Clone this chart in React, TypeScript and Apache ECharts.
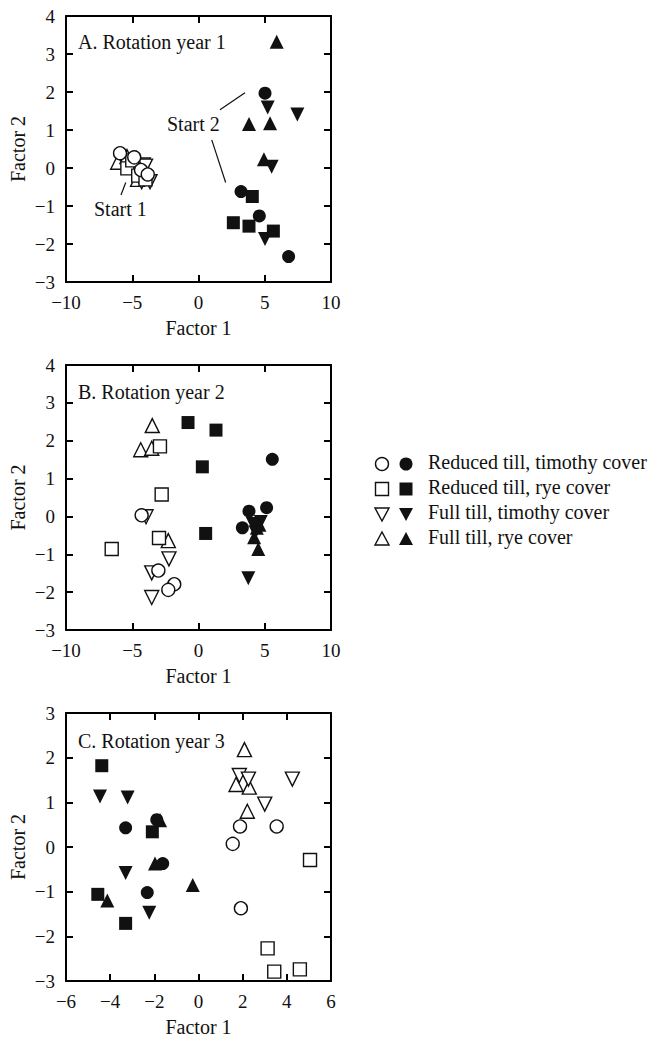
import React, { useEffect, useRef } from "react";
import * as echarts from "echarts";

const FONT = '"Liberation Serif", "Times New Roman", serif';

const treatments = [
  "Reduced till, timothy cover",
  "Reduced till, rye cover",
  "Full till, timothy cover",
  "Full till, rye cover",
];
const panelTitles = ["A. Rotation year 1", "B. Rotation year 2", "C. Rotation year 3"];

// Panel A
const aCircleOpen = [[-5.92, 0.39], [-4.85, 0.28], [-4.34, -0.05], [-3.83, -0.17]];
const aSquareOpen = [[-5.37, -0.01], [-5.0, 0.2], [-4.55, -0.2], [-4.0, -0.3]];
const aDownOpen = [[-4.17, 0.08], [-4.0, 0.05], [-3.66, -0.36], [-4.29, -0.36]];
const aUpOpen = [[-6.1, 0.15], [-5.4, 0.3], [-4.7, 0.25], [-4.6, -0.3]];
const aCircleFill = [[5.02, 1.97], [3.21, -0.62], [4.59, -1.26], [6.8, -2.33]];
const aSquareFill = [[4.06, -0.75], [2.63, -1.44], [3.81, -1.53], [5.65, -1.66]];
const aDownFill = [[5.22, 1.59], [7.46, 1.41], [5.52, 0.03], [5.02, -1.87]];
const aUpFill = [[5.9, 3.32], [3.81, 1.16], [5.4, 1.18], [4.94, 0.23]];

// Panel B
const bCircleOpen = [[-4.29, 0.03], [-3.03, -1.43], [-1.83, -1.79], [-2.28, -1.94]];
const bSquareOpen = [[-2.91, 1.85], [-2.78, 0.58], [-2.98, -0.57], [-6.55, -0.86]];
const bDownOpen = [[-3.96, -0.01], [-2.23, -1.12], [-3.53, -1.49], [-3.53, -2.14]];
const bUpOpen = [[-3.49, 2.4], [-4.36, 1.76], [-3.53, 1.8], [-2.28, -0.64]];
const bCircleFill = [[5.57, 1.51], [3.81, 0.14], [5.14, 0.23], [3.31, -0.3]];
const bSquareFill = [[-0.79, 2.48], [1.32, 2.28], [0.29, 1.31], [0.54, -0.45]];
const bDownFill = [[3.76, -1.63], [4.7, -0.15], [4.3, -0.42], [4.1, -0.2]];
const bUpFill = [[4.51, -0.86], [4.6, -0.22], [4.2, -0.55], [4.4, -0.3]];

// Panel C
const cCircleOpen = [[1.88, 0.46], [3.54, 0.46], [1.55, 0.07], [1.92, -1.37]];
const cSquareOpen = [[5.05, -0.29], [3.13, -2.27], [3.43, -2.79], [4.59, -2.74]];
const cDownOpen = [[1.85, 1.6], [2.26, 1.52], [4.25, 1.52], [3.0, 0.96]];
const cUpOpen = [[2.08, 2.18], [1.7, 1.4], [2.3, 1.34], [2.21, 0.8]];
const cCircleFill = [[-3.3, 0.43], [-1.89, 0.61], [-1.62, -0.37], [-2.32, -1.02]];
const cSquareFill = [[-4.38, 1.82], [-2.09, 0.34], [-4.56, -1.06], [-3.3, -1.71]];
const cDownFill = [[-4.46, 1.13], [-3.21, 1.11], [-3.3, -0.58], [-2.23, -1.47]];
const cUpFill = [[-1.74, 0.6], [-1.97, -0.37], [-0.26, -0.85], [-4.13, -1.2]];

// Annotation leader lines in panel A (data coordinates)
const startLines = [
  [[3.51, 1.98], [1.62, 1.53]],
  [[1.0, 0.74], [2.05, -0.38]],
  [[-5.49, -0.38], [-5.85, -0.71]],
];

const panelData = [
  { up: [aUpOpen, aUpFill], down: [aDownOpen, aDownFill], square: [aSquareOpen, aSquareFill], circle: [aCircleOpen, aCircleFill] },
  { up: [bUpOpen, bUpFill], down: [bDownOpen, bDownFill], square: [bSquareOpen, bSquareFill], circle: [bCircleOpen, bCircleFill] },
  { up: [cUpOpen, cUpFill], down: [cDownOpen, cDownFill], square: [cSquareOpen, cSquareFill], circle: [cCircleOpen, cCircleFill] },
];

const panelRanges = [
  { xMin: -10, xMax: 10, xInt: 5, yMin: -3, yMax: 4 },
  { xMin: -10, xMax: 10, xInt: 5, yMin: -3, yMax: 4 },
  { xMin: -6, xMax: 6, xInt: 2, yMin: -3, yMax: 3 },
];

const grids = [
  { left: 66, top: 16, width: 265, height: 266 },
  { left: 66, top: 365, width: 265, height: 265 },
  { left: 66, top: 713, width: 265, height: 268 },
];

const fmt = (v: number) => String(v).replace("-", "\u2212");

const shapeDefs: Record<string, any> = {
  up: { symbol: "triangle", size: 14, rotate: 0, t: 3 },
  down: { symbol: "triangle", size: 14, rotate: 180, t: 2 },
  square: { symbol: "rect", size: 13, rotate: 0, t: 1 },
  circle: { symbol: "circle", size: 13, rotate: 0, t: 0 },
};

export default function App() {
  const ref = useRef<HTMLDivElement>(null);
  useEffect(() => {
    if (!ref.current) return;
    const chart = echarts.init(ref.current, null, { renderer: "svg" });
    const axisLine = { show: true, onZero: false, lineStyle: { color: "#000", width: 2 } };
    const axisTick = { show: true, inside: true, length: 7, lineStyle: { color: "#000", width: 2 } };
    const xAxis: any[] = [];
    const yAxis: any[] = [];
    const series: any[] = [];
    panelRanges.forEach((r, gi) => {
      xAxis.push({
        type: "value", gridIndex: gi, position: "bottom", min: r.xMin, max: r.xMax, interval: r.xInt,
        axisLine, axisTick, splitLine: { show: false },
        axisLabel: { color: "#111", fontSize: 19, fontFamily: FONT, margin: 11, formatter: fmt },
        name: "Factor 1", nameLocation: "middle", nameGap: 36,
        nameTextStyle: { color: "#111", fontSize: 20, fontFamily: FONT },
      });
      xAxis.push({
        type: "value", gridIndex: gi, position: "top", min: r.xMin, max: r.xMax, interval: r.xInt,
        axisLine, axisTick, splitLine: { show: false }, axisLabel: { show: false },
      });
      yAxis.push({
        type: "value", gridIndex: gi, position: "left", min: r.yMin, max: r.yMax, interval: 1,
        axisLine, axisTick, splitLine: { show: false },
        axisLabel: { color: "#111", fontSize: 19, fontFamily: FONT, margin: 11, formatter: fmt },
        name: "Factor 2", nameLocation: "middle", nameGap: 38, nameRotate: 90,
        nameTextStyle: { color: "#111", fontSize: 20, fontFamily: FONT },
      });
      yAxis.push({
        type: "value", gridIndex: gi, position: "right", min: r.yMin, max: r.yMax, interval: 1,
        axisLine, axisTick, splitLine: { show: false }, axisLabel: { show: false },
      });
      const pd: any = panelData[gi];
      ["up", "down", "square", "circle"].forEach((k) => {
        const sd = shapeDefs[k];
        [0, 1].forEach((filled) => {
          const s: any = {
            type: "scatter",
            name: treatments[sd.t] + (filled ? " (filled)" : " (open)"),
            xAxisIndex: gi * 2,
            yAxisIndex: gi * 2,
            data: pd[k][filled],
            symbol: sd.symbol,
            symbolSize: sd.size,
            symbolRotate: sd.rotate,
            itemStyle: filled
              ? { color: "#111", borderColor: "#111", borderWidth: 0, opacity: 1 }
              : { color: "#fff", borderColor: "#111", borderWidth: 1.4, opacity: 1 },
            emphasis: { disabled: true },
            z: filled ? 3 : 2,
          };
          if (gi === 0 && k === "circle" && filled === 1) {
            s.markLine = {
              silent: true,
              symbol: ["none", "none"],
              label: { show: false },
              lineStyle: { color: "#111", width: 1.2, type: "solid", opacity: 1 },
              data: startLines.map((l) => [{ coord: l[0] }, { coord: l[1] }]),
            };
          }
          series.push(s);
        });
      });
    });

    const graphic: any[] = [];
    const titleY = [43, 393, 742];
    panelTitles.forEach((t, i) => {
      graphic.push({
        type: "text", left: 78, top: titleY[i] - 11,
        style: { text: t, fill: "#111", font: `20px ${FONT}` },
      });
    });
    graphic.push({ type: "text", left: 167, top: 114, style: { text: "Start 2", fill: "#111", font: `20px ${FONT}` } });
    graphic.push({ type: "text", left: 94, top: 199, style: { text: "Start 1", fill: "#111", font: `20px ${FONT}` } });

    // Legend
    const rowsY = [464, 489, 514, 539];
    const ox = 382, fx = 406, r = 6.5;
    const openStyle = { fill: "#fff", stroke: "#111", lineWidth: 1.4 };
    const fillStyle = { fill: "#111", stroke: "#111", lineWidth: 0 };
    const mk = (k: number, cx: number, cy: number, style: any) => {
      if (k === 0) return { type: "circle", shape: { cx, cy, r }, style };
      if (k === 1) return { type: "rect", shape: { x: cx - 6.5, y: cy - 6.5, width: 13, height: 13 }, style };
      if (k === 2)
        return { type: "polygon", shape: { points: [[cx - 7, cy - 6], [cx + 7, cy - 6], [cx, cy + 7]] }, style };
      return { type: "polygon", shape: { points: [[cx - 7, cy + 6], [cx + 7, cy + 6], [cx, cy - 7]] }, style };
    };
    treatments.forEach((t, i) => {
      graphic.push(mk(i, ox, rowsY[i], openStyle));
      graphic.push(mk(i, fx, rowsY[i], fillStyle));
      graphic.push({
        type: "text", left: 428, top: rowsY[i] - 12,
        style: { text: t, fill: "#111", font: `20px ${FONT}` },
      });
    });

    chart.setOption({
      animation: false,
      backgroundColor: "#fff",
      textStyle: { fontFamily: FONT },
      grid: grids.map((g) => ({ ...g, containLabel: false })),
      xAxis,
      yAxis,
      series,
      graphic,
    });
    return () => chart.dispose();
  }, []);
  return (
    <div
      ref={ref}
      style={{ position: "absolute", left: 0, top: 0, width: 649, height: 1039, background: "#fff" }}
    />
  );
}
